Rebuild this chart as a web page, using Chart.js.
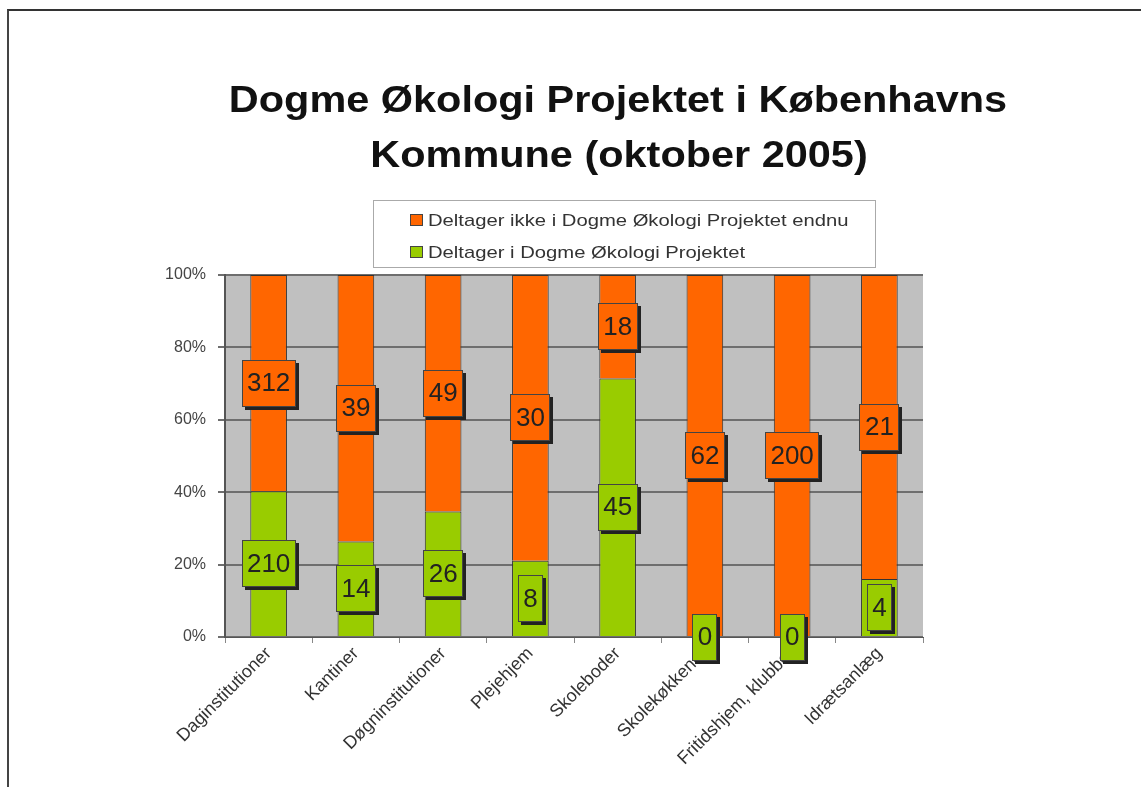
<!DOCTYPE html>
<html>
<head>
<meta charset="utf-8">
<script src="https://cdn.jsdelivr.net/npm/chart.js@4"></script>
<style>
  html, body { margin: 0; padding: 0; background: #fff; }
  #wrap { position: relative; width: 1141px; height: 787px; }
  #frame { position: absolute; left: 7px; top: 9px; width: 1140px; height: 780px;
           border-top: 2px solid #333; border-left: 2px solid #444; }
  canvas { position: absolute; left: 0; top: 0; }
</style>
</head>
<body>
<div id="wrap">
  <div id="frame"></div>
  <canvas id="dogmeChart" width="1141" height="787"></canvas>
</div>
<script>
// categories and counts
const categories = ['Daginstitutioner', 'Kantiner', 'Døgninstitutioner', 'Plejehjem',
                    'Skoleboder', 'Skolekøkkener', 'Fritidshjem, klubber', 'Idrætsanlæg'];
const deltager = [210, 14, 26, 8, 45, 0, 0, 4];
const ikkeDeltager = [312, 39, 49, 30, 18, 62, 200, 21];
const titleLines = ['Dogme Økologi Projektet i Københavns', 'Kommune (oktober 2005)'];
const yTicks = [0, 20, 40, 60, 80, 100];

// 100% stacked: share of each category total
const totals = categories.map((c, i) => deltager[i] + ikkeDeltager[i]);
const pct = arr => arr.map((v, i) => v / totals[i] * 100);

const green = '#99cc00';
const orange = '#ff6600';
const FONT = '"Liberation Sans", Arial, sans-serif';

// the original picture is a bit stretched sideways, so text is drawn scaled
function wideText(ctx, txt, x, y, sx) {
  ctx.save();
  ctx.translate(x, y);
  ctx.scale(sx, 1);
  ctx.fillText(txt, 0, 0);
  ctx.restore();
}

// grey plot background
const plotBg = {
  id: 'plotBg',
  beforeDraw(chart) {
    const a = chart.chartArea, ctx = chart.ctx;
    ctx.save();
    ctx.fillStyle = '#c0c0c0';
    ctx.fillRect(a.left, a.top, a.right - a.left, a.bottom - a.top);
    ctx.restore();
  }
};

// title + boxed legend, centred a bit right of the plot like the original
const header = {
  id: 'header',
  afterDraw(chart) {
    const ctx = chart.ctx;
    ctx.save();
    ctx.fillStyle = '#111';
    ctx.font = 'bold 37px ' + FONT;
    ctx.textAlign = 'center';
    ctx.textBaseline = 'middle';
    wideText(ctx, titleLines[0], 618, 102, 1.12);
    wideText(ctx, titleLines[1], 619, 157, 1.12);

    // legend box
    const lx = 373, ly = 200, lw = 502, lh = 67;
    ctx.fillStyle = '#fff';
    ctx.fillRect(lx, ly, lw, lh);
    ctx.strokeStyle = '#aaa';
    ctx.lineWidth = 1;
    ctx.strokeRect(lx + 0.5, ly + 0.5, lw, lh);
    const items = [chart.data.datasets[1], chart.data.datasets[0]];
    ctx.font = '17px ' + FONT;
    ctx.textAlign = 'left';
    items.forEach((ds, k) => {
      const y = 220 + k * 32;
      ctx.fillStyle = ds.backgroundColor;
      ctx.fillRect(410, y - 6, 13, 12);
      ctx.strokeStyle = '#444';
      ctx.strokeRect(410.5, y - 5.5, 12, 11);
      ctx.fillStyle = '#333';
      wideText(ctx, ds.label, 428, y + 1, 1.19);
    });
    ctx.restore();
  }
};

// boxed value labels in the middle of each segment
const boxLabels = {
  id: 'boxLabels',
  afterDraw(chart) {
    const ctx = chart.ctx;
    ctx.save();
    ctx.font = '26px ' + FONT;
    ctx.textAlign = 'center';
    ctx.textBaseline = 'middle';
    chart.data.datasets.forEach((ds, di) => {
      const meta = chart.getDatasetMeta(di);
      meta.data.forEach((bar, i) => {
        const txt = String(ds.counts[i]);
        const cx = bar.x;
        const cy = (bar.y + bar.base) / 2;
        const w = Math.round(ctx.measureText(txt).width + 11);
        const h = 47;
        const x0 = Math.round(cx - w / 2), y0 = Math.round(cy - h / 2);
        ctx.fillStyle = '#222';
        ctx.fillRect(x0 + 3, y0 + 3, w, h);
        ctx.fillStyle = ds.backgroundColor;
        ctx.fillRect(x0, y0, w, h);
        ctx.strokeStyle = '#444';
        ctx.lineWidth = 1;
        ctx.strokeRect(x0 + 0.5, y0 + 0.5, w - 1, h - 1);
        ctx.fillStyle = '#222';
        ctx.fillText(txt, cx, cy + 1);
      });
    });
    ctx.restore();
  }
};

const ctx = document.getElementById('dogmeChart').getContext('2d');
const dogmeChart = new Chart(ctx, {
  type: 'bar',
  data: {
    labels: categories,
    datasets: [
      {
        label: 'Deltager i Dogme Økologi Projektet',
        data: pct(deltager),
        counts: deltager,
        backgroundColor: green,
        borderColor: '#333',
        borderWidth: 1,
        barPercentage: 0.42,
        categoryPercentage: 1
      },
      {
        label: 'Deltager ikke i Dogme Økologi Projektet endnu',
        data: pct(ikkeDeltager),
        counts: ikkeDeltager,
        backgroundColor: orange,
        borderColor: '#333',
        borderWidth: 1,
        barPercentage: 0.42,
        categoryPercentage: 1
      }
    ]
  },
  options: {
    responsive: false,
    animation: false,
    layout: { padding: { left: 0, top: 275, right: 218, bottom: 0 } },
    plugins: {
      legend: { display: false },
      title: { display: false },
      tooltip: { enabled: false }
    },
    scales: {
      x: {
        stacked: true,
        afterFit(scale) { scale.height = 150; },
        border: { display: true, color: '#555', width: 1 },
        grid: { drawOnChartArea: false, drawTicks: true, tickLength: 6, color: '#888' },
        ticks: {
          color: '#333',
          font: { family: FONT, size: 18 },
          minRotation: 45,
          maxRotation: 45,
          autoSkip: false,
          padding: 0
        }
      },
      y: {
        stacked: true,
        min: 0,
        max: 100,
        afterFit(scale) { scale.width = 225; },
        afterBuildTicks(scale) { scale.ticks = yTicks.map(v => ({ value: v })); },
        border: { display: true, color: '#555', width: 2 },
        grid: { color: '#6e6e6e', lineWidth: 2, tickLength: 7, drawTicks: true },
        ticks: {
          color: '#444',
          font: { family: FONT, size: 16 },
          padding: 12,
          callback: v => v + '%'
        }
      }
    }
  },
  plugins: [plotBg, header, boxLabels]
});
</script>
</body>
</html>
